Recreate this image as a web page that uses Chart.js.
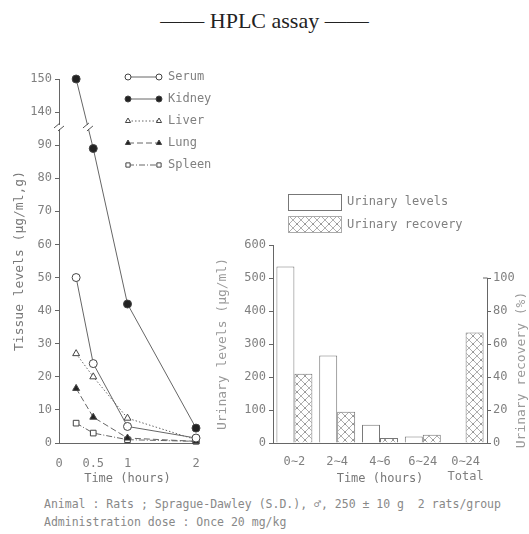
<!DOCTYPE html>
<html>
<head>
<meta charset="utf-8">
<script src="https://cdn.jsdelivr.net/npm/chart.js@4.4.0/dist/chart.umd.min.js"></script>
<style>
body { margin: 0; width: 529px; height: 534px; background: #fff; position: relative; overflow: hidden; }
#title { position: absolute; left: 0; top: 8px; width: 529px; text-align: center; font-family: "Liberation Serif", serif; font-size: 22px; color: #222; }
canvas { position: absolute; }
#c1 { left: 0; top: 50px; }
#c2 { left: 205px; top: 180px; }
.note { position: absolute; left: 44px; font-family: "DejaVu Sans Mono", monospace; font-size: 11.5px; color: #888; white-space: pre; }
</style>
</head>
<body>
<div id="title">—— HPLC assay ——</div>
<canvas id="c1" width="240" height="440"></canvas>
<canvas id="c2" width="324" height="310"></canvas>
<div class="note" style="top:497px">Animal : Rats ; Sprague-Dawley (S.D.), ♂, 250 ± 10 g  2 rats/group</div>
<div class="note" style="top:515px">Administration dose : Once 20 mg/kg</div>
<script>
//---------------------------------------
// Data
//---------------------------------------

// tissue levels (µg/ml,g)
const times = [0.25, 0.5, 1, 2];
const serum = [50, 24, 5, 1.5];
const kidney = [150, 89, 42, 4.5];
const liver = [27, 20, 7.5, 1];
const lung = [16.5, 7.8, 1.5, 0.5];
const spleen = [6, 3, 1, 0.5];
const tissue_ticks = [0, 10, 20, 30, 40, 50, 60, 70, 80, 90, 140, 150];
const time_ticks = [0, 0.5, 1, 2];

// urinary
const periods = ['0∼2', '2∼4', '4∼6', '6∼24', ['0∼24', 'Total']];
const urinary_levels = [535, 265, 55, 20, null];
const urinary_recovery = [42, 19, 3, 5, 67];
const level_ticks = [0, 100, 200, 300, 400, 500, 600];
const recovery_ticks = [0, 20, 40, 60, 80, 100];

//---------------------------------------
// Global
//---------------------------------------

const FONT = "'DejaVu Sans Mono', monospace";
const TXT = '#808080';
const LINE = '#666';

Chart.defaults.font.family = FONT;
Chart.defaults.font.size = 12;
Chart.defaults.color = TXT;

// y軸の省略 (90 -> 140): 140以上は40引いて描く
function brk(v) { return v >= 140 ? v - 40 : v; }

function pts(ys) {
  return times.map((t, i) => ({x: t, y: brk(ys[i])}));
}

// hatch pattern
function make_hatch() {
  const c = document.createElement('canvas');
  c.width = 8; c.height = 8;
  const g = c.getContext('2d');
  g.fillStyle = '#fff';
  g.fillRect(0, 0, 8, 8);
  g.strokeStyle = '#9a9a9a';
  g.lineWidth = 0.8;
  g.beginPath();
  g.moveTo(0, 0); g.lineTo(8, 8);
  g.moveTo(0, 8); g.lineTo(8, 0);
  g.stroke();
  g.fillStyle = '#777';
  g.fillRect(3.5, 3.5, 1.2, 1.2);
  return g.createPattern(c, 'repeat');
}
const hatch = make_hatch();

//---------------------------------------
// Left chart (tissue levels)
//---------------------------------------

const tissue_sets = [
  {label: 'Serum', data: pts(serum), pointStyle: 'circle', fill: '#fff', dash: []},
  {label: 'Kidney', data: pts(kidney), pointStyle: 'circle', fill: '#222', dash: []},
  {label: 'Liver', data: pts(liver), pointStyle: 'triangle', fill: '#fff', dash: [1.5, 2]},
  {label: 'Lung', data: pts(lung), pointStyle: 'triangle', fill: '#222', dash: [6, 3]},
  {label: 'Spleen', data: pts(spleen), pointStyle: 'rect', fill: '#fff', dash: [6, 2, 1, 2]}
];

const tissue_legend = {
  id: 'tissue_legend',
  afterDraw(chart) {
    const ctx = chart.ctx;
    ctx.save();
    tissue_sets.forEach((s, i) => {
      const y = 27 + i * 22;
      ctx.strokeStyle = LINE;
      ctx.lineWidth = 1;
      ctx.setLineDash(s.dash);
      ctx.beginPath();
      ctx.moveTo(128, y); ctx.lineTo(159, y);
      ctx.stroke();
      ctx.setLineDash([]);
      [128, 159].forEach(x => {
        ctx.fillStyle = s.fill;
        ctx.strokeStyle = '#444';
        Chart.helpers.drawPoint(ctx, {pointStyle: s.pointStyle, radius: 3, borderWidth: 1, rotation: 0}, x, y);
      });
      ctx.fillStyle = TXT;
      ctx.font = '12px ' + FONT;
      ctx.textBaseline = 'middle';
      ctx.fillText(s.label, 168, y);
    });
    ctx.restore();
  }
};

// 軸の省略記号 //
const break_marks = {
  id: 'break_marks',
  afterDraw(chart) {
    const ctx = chart.ctx;
    const sy = chart.scales.y, sx = chart.scales.x;
    const y = sy.getPixelForValue(95.5);
    const ax = chart.chartArea.left;
    // kidney line crossing
    const k0 = {x: sx.getPixelForValue(times[0]), y: sy.getPixelForValue(brk(kidney[0]))};
    const k1 = {x: sx.getPixelForValue(times[1]), y: sy.getPixelForValue(brk(kidney[1]))};
    const kx = k0.x + (k1.x - k0.x) * (y - k0.y) / (k1.y - k0.y);
    ctx.save();
    [ax, kx].forEach(x => {
      ctx.fillStyle = '#fff';
      ctx.fillRect(x - 3, y - 2, 6, 4);
      ctx.strokeStyle = '#555';
      ctx.lineWidth = 1;
      ctx.beginPath();
      ctx.moveTo(x - 5, y + 1); ctx.lineTo(x + 1, y - 4);
      ctx.moveTo(x - 1, y + 4); ctx.lineTo(x + 5, y - 1);
      ctx.stroke();
    });
    ctx.restore();
  }
};

new Chart(document.getElementById('c1'), {
  type: 'scatter',
  data: {
    datasets: tissue_sets.map(s => ({
      label: s.label,
      data: s.data,
      showLine: true,
      clip: false,
      borderColor: LINE,
      borderWidth: 1,
      borderDash: s.dash,
      pointStyle: s.pointStyle,
      pointRadius: 4,
      pointBorderWidth: 1,
      pointBorderColor: '#444',
      pointBackgroundColor: s.fill
    }))
  },
  options: {
    responsive: false,
    animation: false,
    layout: {padding: {top: 29, right: 44, left: 0, bottom: 0}},
    plugins: {legend: {display: false}, tooltip: {enabled: false}},
    scales: {
      x: {
        type: 'linear', min: 0, max: 2,
        afterBuildTicks: s => { s.ticks = time_ticks.map(v => ({value: v})); },
        afterFit: s => { s.height = 47; },
        grid: {display: false},
        border: {color: LINE},
        ticks: {color: TXT, padding: 6, callback: v => String(v)},
        title: {display: true, text: 'Time (hours)', color: '#777', padding: {top: 2}}
      },
      y: {
        min: 0, max: 110,
        afterBuildTicks: s => { s.ticks = tissue_ticks.map(v => ({value: brk(v)})); },
        afterFit: s => { s.width = 59; },
        grid: {drawOnChartArea: false, tickLength: 4, color: LINE},
        border: {color: LINE},
        ticks: {color: TXT, padding: 3, callback: v => v >= 100 ? v + 40 : v},
        title: {display: true, text: 'Tissue levels (µg/ml,g)', color: '#777', font: {size: 13}, padding: {top: 12}}
      }
    }
  },
  plugins: [tissue_legend, break_marks]
});

//---------------------------------------
// Right chart (urinary)
//---------------------------------------

const urinary_extra = {
  id: 'urinary_extra',
  afterDraw(chart) {
    const ctx = chart.ctx;
    const a = chart.chartArea;
    const y1 = chart.scales.y1;
    ctx.save();
    // right axis line 0-100
    ctx.strokeStyle = LINE;
    ctx.lineWidth = 1;
    ctx.beginPath();
    ctx.moveTo(a.right + 0.5, y1.getPixelForValue(0));
    ctx.lineTo(a.right + 0.5, y1.getPixelForValue(100));
    ctx.lineTo(a.right - 4, y1.getPixelForValue(100));
    ctx.stroke();
    // right axis title
    ctx.translate(317, 190);
    ctx.rotate(-Math.PI / 2);
    ctx.fillStyle = '#999';
    ctx.font = '13px ' + FONT;
    ctx.textAlign = 'center';
    ctx.textBaseline = 'middle';
    ctx.fillText('Urinary recovery (%)', 0, 0);
    ctx.restore();

    // legend
    ctx.save();
    ctx.strokeStyle = '#777';
    ctx.lineWidth = 1;
    ctx.fillStyle = '#fff';
    ctx.fillRect(83.5, 14.5, 53, 16);
    ctx.strokeRect(83.5, 14.5, 53, 16);
    ctx.fillStyle = hatch;
    ctx.fillRect(83.5, 36.5, 53, 16);
    ctx.strokeStyle = '#aaa';
    ctx.strokeRect(83.5, 36.5, 53, 16);
    ctx.fillStyle = TXT;
    ctx.font = '12px ' + FONT;
    ctx.textBaseline = 'middle';
    ctx.fillText('Urinary levels', 142, 22);
    ctx.fillText('Urinary recovery', 142, 45);
    ctx.restore();
  }
};

new Chart(document.getElementById('c2'), {
  type: 'bar',
  data: {
    labels: periods,
    datasets: [
      {label: 'Urinary levels', data: urinary_levels, yAxisID: 'y',
       backgroundColor: '#fff', borderColor: '#777', borderWidth: 1},
      {label: 'Urinary recovery', data: urinary_recovery, yAxisID: 'y1',
       backgroundColor: hatch, borderColor: '#777', borderWidth: 1}
    ]
  },
  options: {
    responsive: false,
    animation: false,
    layout: {padding: {top: 65, right: 0, left: 0, bottom: 0}},
    datasets: {bar: {categoryPercentage: 0.84, barPercentage: 1.0}},
    plugins: {legend: {display: false}, tooltip: {enabled: false}},
    scales: {
      x: {
        afterFit: s => { s.height = 47; },
        grid: {display: false},
        border: {color: LINE},
        ticks: {color: TXT, padding: 4, maxRotation: 0, autoSkip: false},
        title: {display: true, text: 'Time (hours)', color: '#777', padding: {top: -10}}
      },
      y: {
        position: 'left', min: 0, max: 600,
        afterBuildTicks: s => { s.ticks = level_ticks.map(v => ({value: v})); },
        afterFit: s => { s.width = 68; },
        grid: {drawOnChartArea: false, tickLength: 4, color: LINE},
        border: {color: LINE},
        ticks: {color: TXT, padding: 3},
        title: {display: true, text: 'Urinary levels (µg/ml)', color: '#999', font: {size: 13}, padding: {top: 10}}
      },
      y1: {
        position: 'right', min: 0, max: 120,
        afterBuildTicks: s => { s.ticks = recovery_ticks.map(v => ({value: v})); },
        afterFit: s => { s.width = 42; },
        grid: {drawOnChartArea: false, tickLength: 4, color: LINE},
        border: {display: false},
        ticks: {color: TXT, padding: 2}
      }
    }
  },
  plugins: [urinary_extra]
});
</script>
</body>
</html>
